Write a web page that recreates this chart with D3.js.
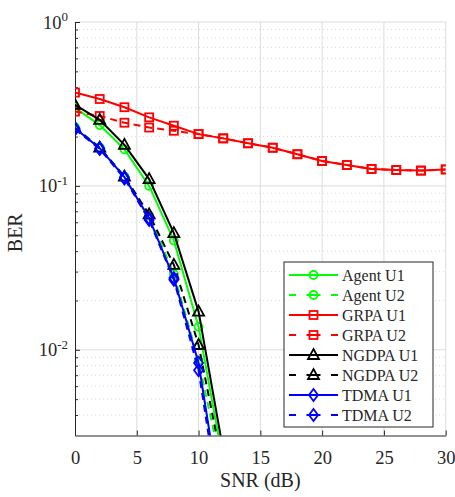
<!DOCTYPE html>
<html>
<head>
<meta charset="utf-8">
<title>BER vs SNR</title>
<script src="https://cdn.jsdelivr.net/npm/d3@7"></script>
<style>
  body{margin:0;background:#fff}
  svg text{font-family:"Liberation Serif","Times New Roman",serif;fill:#262626}
</style>
</head>
<body>
<svg id="mySVG" width="455" height="497"></svg>
<script>
//---data---
var snr=[0,2,4,6,8,10,12,14,16,18,20,22,24,26,28,30]
var agentU1=[0.300,0.235,0.167,0.100,0.0464,0.0138,0.00207]
var agentU2=[0.228,0.172,0.114,0.066,0.029,0.0086,0.0017]
var grpaU1=[0.371,0.339,0.302,0.262,0.233,0.207,0.195,0.182,0.171,0.156,0.142,0.134,0.127,0.125,0.124,0.126]
var grpaU2=[0.284,0.267,0.243,0.227,0.217,0.207,0.195,0.182,0.171,0.156,0.142,0.134,0.127,0.125,0.124,0.126]
var ngdpaU1=[0.312,0.253,0.178,0.110,0.0515,0.0171,0.00242]
var ngdpaU2=[0.226,0.171,0.114,0.067,0.033,0.0107,0.00188]
var tdmaU1=[0.225,0.170,0.113,0.0635,0.0274,0.0083,0.00093]
var tdmaU2=[0.222,0.168,0.111,0.062,0.0268,0.0075,0.0008]
var xTicks=[0,5,10,15,20,25,30]
var yDecades=[1e-2,1e-1,1]
var yExps=[-2,-1,0]

var seriesList=[
  {name:"Agent U1",vals:agentU1,color:"#00ff00",dash:false,marker:"circle"},
  {name:"Agent U2",vals:agentU2,color:"#00ff00",dash:true,marker:"circle"},
  {name:"GRPA U1",vals:grpaU1,color:"#ff0000",dash:false,marker:"square"},
  {name:"GRPA U2",vals:grpaU2,color:"#ff0000",dash:true,marker:"square"},
  {name:"NGDPA U1",vals:ngdpaU1,color:"#000000",dash:false,marker:"triangle"},
  {name:"NGDPA U2",vals:ngdpaU2,color:"#000000",dash:true,marker:"triangle"},
  {name:"TDMA U1",vals:tdmaU1,color:"#0000ff",dash:false,marker:"diamond"},
  {name:"TDMA U2",vals:tdmaU2,color:"#0000ff",dash:true,marker:"diamond"}
]

//---layout---
var svg=d3.select("#mySVG")
var padLeft=75,padTop=22,plotW=370.7,plotH=413.5
var axisColor="#262626"

var x=d3.scaleLinear().domain([0,30]).range([0,plotW])
var y=d3.scaleLog().domain([0.003,1]).range([plotH,0])

var plot=svg.append("g").attr("transform","translate("+padLeft+","+padTop+")")

svg.append("defs").append("clipPath").attr("id","plotClip")
  .append("rect").attr("width",plotW).attr("height",plotH)

//---grid---
var minorVals=[]
;[0.001,0.01,0.1].forEach(function(d){
  for(var k=2;k<=9;k++){
    var v=+(d*k).toPrecision(3)
    if(v>0.003&&v<1) minorVals.push(v)
  }
})
plot.append("g").selectAll("line").data(minorVals).enter().append("line")
  .attr("x1",0).attr("x2",plotW)
  .attr("y1",function(d){return y(d)}).attr("y2",function(d){return y(d)})
  .attr("stroke","#d9d9d9").attr("stroke-width",1)
  .attr("stroke-dasharray","1,3")
plot.append("g").selectAll("line").data(yDecades).enter().append("line")
  .attr("x1",0).attr("x2",plotW)
  .attr("y1",function(d){return y(d)}).attr("y2",function(d){return y(d)})
  .attr("stroke","#dcdcdc").attr("stroke-width",1)
plot.append("g").selectAll("line").data(xTicks.slice(1)).enter().append("line")
  .attr("y1",0).attr("y2",plotH)
  .attr("x1",function(d){return x(d)}).attr("x2",function(d){return x(d)})
  .attr("stroke","#dcdcdc").attr("stroke-width",1)

//---axes (MATLAB style, ticks inward)---
var xAxis=plot.append("g").attr("transform","translate(0,"+plotH+")")
  .call(d3.axisBottom(x).tickValues(xTicks).tickSize(-5).tickPadding(11).tickSizeOuter(0))
xAxis.select(".domain").attr("stroke",axisColor)
xAxis.selectAll(".tick line").attr("stroke",axisColor)
xAxis.selectAll(".tick text").attr("font-size",18.5).attr("fill",axisColor)
  .attr("font-family","'Liberation Serif','Times New Roman',serif").attr("dy","0.95em")

var yAxis=plot.append("g")
  .call(d3.axisLeft(y).tickValues(yDecades).tickSize(-5).tickFormat("").tickSizeOuter(0))
yAxis.select(".domain").attr("stroke",axisColor)
yAxis.selectAll(".tick line").attr("stroke",axisColor)

var yMinor=plot.append("g")
  .call(d3.axisLeft(y).tickValues(minorVals).tickSize(-3).tickFormat("").tickSizeOuter(0))
yMinor.select(".domain").remove()
yMinor.selectAll(".tick line").attr("stroke",axisColor)

//---y tick labels 10^n---
var yLab=plot.append("g").selectAll("text").data(yDecades).enter().append("text")
  .attr("x",-7)
  .attr("y",function(d){return y(d)+6.5})
  .attr("text-anchor","end")
  .attr("font-size",18.5)
yLab.append("tspan").text("10")
yLab.append("tspan").attr("font-size",13).attr("dy","-0.6em")
  .text(function(d,i){return yExps[i]})

//---axis titles---
svg.append("text").attr("x",padLeft+plotW/2).attr("y",487)
  .attr("text-anchor","middle").attr("font-size",20).text("SNR (dB)")
svg.append("text").attr("transform","translate(22,"+(padTop+plotH/2+4)+")rotate(-90)")
  .attr("text-anchor","middle").attr("font-size",20).text("BER")

//---markers---
function drawMarker(g,type,color,cx,cy){
  if(type=="circle")
    g.append("circle").attr("cx",cx).attr("cy",cy).attr("r",4)
      .attr("fill","none").attr("stroke",color).attr("stroke-width",1.8)
  else if(type=="square")
    g.append("rect").attr("x",cx-4).attr("y",cy-4).attr("width",8).attr("height",8)
      .attr("fill","none").attr("stroke",color).attr("stroke-width",1.8)
  else if(type=="triangle")
    g.append("path").attr("d","M"+cx+","+(cy-6)+"L"+(cx+5.5)+","+(cy+4)+"L"+(cx-5.5)+","+(cy+4)+"Z")
      .attr("fill","none").attr("stroke",color).attr("stroke-width",1.8)
  else
    g.append("path").attr("d","M"+cx+","+(cy-6)+"L"+(cx+4.5)+","+cy+"L"+cx+","+(cy+6)+"L"+(cx-4.5)+","+cy+"Z")
      .attr("fill","none").attr("stroke",color).attr("stroke-width",1.8)
}

//---curves---
var curves=plot.append("g").attr("clip-path","url(#plotClip)")
var line=d3.line()
  .x(function(d){return x(d[0])})
  .y(function(d){return y(d[1])})

seriesList.forEach(function(s){
  var pts=s.vals.map(function(v,i){return [snr[i],v]})
  var g=curves.append("g")
  g.append("path").datum(pts)
    .attr("d",line)
    .attr("fill","none")
    .attr("stroke",s.color)
    .attr("stroke-width",2)
    .attr("stroke-dasharray",s.dash?"7,5":null)
  pts.forEach(function(p){
    drawMarker(g,s.marker,s.color,x(p[0]),y(p[1]))
  })
})

//---legend---
var lgX=284,lgY=262,lgW=149,lgH=165,rowH=20
var legend=svg.append("g")
legend.append("rect").attr("x",lgX).attr("y",lgY).attr("width",lgW).attr("height",lgH)
  .attr("fill","#fff").attr("stroke",axisColor).attr("stroke-width",1)
seriesList.forEach(function(s,i){
  var ry=lgY+13+i*rowH
  var row=legend.append("g")
  row.append("line").attr("x1",lgX+5).attr("x2",lgX+54).attr("y1",ry).attr("y2",ry)
    .attr("stroke",s.color).attr("stroke-width",2)
  if(s.dash) row.select("line").attr("stroke-dasharray","7,10.5,14,10.5,7")
  drawMarker(row,s.marker,s.color,lgX+29.5,ry)
  row.append("text").attr("x",lgX+58).attr("y",ry+5.5).attr("font-size",16).text(s.name)
})
</script>
</body>
</html>
